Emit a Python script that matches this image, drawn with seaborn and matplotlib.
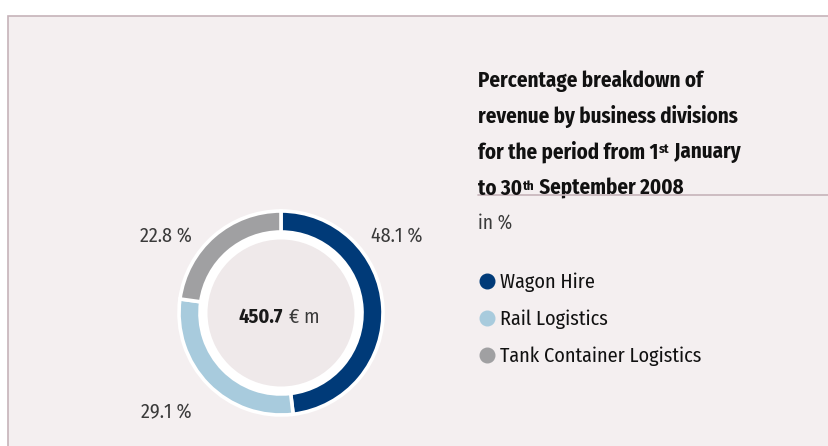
import matplotlib
matplotlib.use("Agg")
import matplotlib.pyplot as plt
from matplotlib.patches import Rectangle, Circle
from matplotlib.lines import Line2D
import seaborn as sns

# -------------------------------------------------------
# DATA
# -------------------------------------------------------
divisions = ["Wagon Hire", "Rail Logistics", "Tank Container Logistics"]
shares = [48.1, 29.1, 22.8]
share_labels = ["48.1 %", "29.1 %", "22.8 %"]
colors = ["#003a78", "#a8cbdd", "#a0a0a2"]
total_revenue = "450.7"
unit_text = "€ m"

sns.set_theme(style="white")
FONT = ["Fira Sans Condensed", "DejaVu Sans"]
plt.rcParams["font.family"] = FONT

W, H = 829, 446
fig = plt.figure(figsize=(W / 100, H / 100), dpi=100)
fig.patch.set_facecolor("white")

# panel background with thin border (behind everything)
panel = Rectangle((8.5 / W, -0.01), 1.0, (H - 15.5) / H + 0.01,
                  transform=fig.transFigure, facecolor="#f4eff0",
                  edgecolor="#c6b3b9", linewidth=1.2, zorder=-5)
fig.patches.append(panel)

# -------------------------------------------------------
# DONUT
# -------------------------------------------------------
cx, cy, size = 281, H - 313, 240
ax = fig.add_axes([(cx - size / 2) / W, (cy - size / 2) / H, size / W, size / H])

wedges, _ = ax.pie(shares, colors=colors, startangle=90, counterclock=False,
                   radius=1.02,
                   wedgeprops=dict(width=0.21, edgecolor="white", linewidth=2.6))
# pie() resets the limits, so set them afterwards (1 unit = 100 px)
ax.set_xlim(-1.2, 1.2)
ax.set_ylim(-1.2, 1.2)
ax.set_aspect("equal")
ax.axis("off")

ax.add_patch(Circle((0, 0), 0.81, facecolor="white", edgecolor="none", zorder=0.5))
ax.add_patch(Circle((0, 0), 0.735, facecolor="#efe9ea", edgecolor="none", zorder=3))

# percentage labels outside the ring
label_pos = [(1.16, 0.77), (-1.15, -1.0), (-1.15, 0.77)]
for (lx, ly), txt in zip(label_pos, share_labels):
    ax.text(lx, ly, txt, ha="center", va="center", fontsize=14.5,
            fontweight="normal", color="#3a3a3a")

# centre total
ax.text(0.02, -0.04, total_revenue, ha="right", va="center",
        fontsize=14.5, fontweight="bold", color="#1a1a1a", zorder=4)
ax.text(0.08, -0.04, unit_text, ha="left", va="center",
        fontsize=14.5, fontweight="normal", color="#3a3a3a", zorder=4)

# -------------------------------------------------------
# TITLE BLOCK
# -------------------------------------------------------
tx = 478 / W
title_kw = dict(fontsize=15, fontweight="bold", color="#111111",
                va="baseline", ha="left")
sup_kw = dict(fontsize=9.5, fontweight="bold", color="#111111",
              va="top", ha="left", textcoords="offset points")
rest_kw = dict(fontsize=15, fontweight="bold", color="#111111",
               va="bottom", ha="left")
fig.text(tx, 1 - 87 / H, "Percentage breakdown of", **title_kw)
fig.text(tx, 1 - 123 / H, "revenue by business divisions", **title_kw)

a = fig.text(tx, 1 - 159 / H, "for the period from 1", **title_kw)
sup1 = ax.annotate("st", xy=(1, 1), xycoords=a, xytext=(0.6, -1.5), **sup_kw)
ax.annotate(" January", xy=(1, 0), xycoords=(sup1, a), **rest_kw)

c = fig.text(tx, 1 - 195 / H, "to 30", **title_kw)
sup2 = ax.annotate("th", xy=(1, 1), xycoords=c, xytext=(0.6, -1.5), **sup_kw)
ax.annotate(" September 2008", xy=(1, 0), xycoords=(sup2, c), **rest_kw)

# separator line under title
fig.add_artist(Line2D([tx, 1.0], [1 - 195 / H, 1 - 195 / H],
                      transform=fig.transFigure, color="#c6b3b9", linewidth=1.2))

fig.text(tx, 1 - 223 / H, "in %", fontsize=14, fontweight="normal",
         color="#3a3a3a", va="center", ha="left")

# -------------------------------------------------------
# LEGEND
# -------------------------------------------------------
handles = [Line2D([0], [0], marker="o", linestyle="none", markersize=10.5,
                  markerfacecolor=c_, markeredgecolor=c_) for c_ in colors]
fig.legend(handles, divisions, loc="upper left",
           bbox_to_anchor=(469.5 / W, 1 - 262 / H), frameon=False,
           fontsize=14.5, labelspacing=0.87, handlelength=0.7,
           handletextpad=0.3, borderpad=0, labelcolor="#111111")

fig.savefig("out.png", dpi=100, facecolor=fig.get_facecolor())
